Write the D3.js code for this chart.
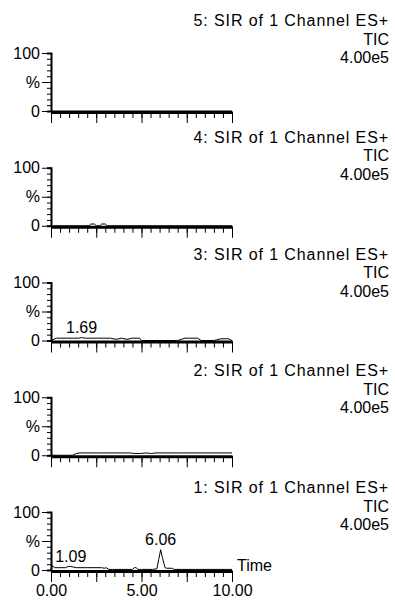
<!DOCTYPE html>
<html>
<head>
<meta charset="utf-8">
<script src="https://cdn.jsdelivr.net/npm/d3@7"></script>
<style>
    body { margin: 0; background: #fff; }
    svg { display: block; }
    text { font-family: "Liberation Sans", Arial, sans-serif; }
</style>
</head>
<body>
<div id="chart"></div>
<script>
// one panel per SIR channel, top to bottom
var titles = ['5: SIR of 1 Channel ES+', '4: SIR of 1 Channel ES+', '3: SIR of 1 Channel ES+', '2: SIR of 1 Channel ES+', '1: SIR of 1 Channel ES+']
var traceTypes = ['TIC', 'TIC', 'TIC', 'TIC', 'TIC']
var fullScales = ['4.00e5', '4.00e5', '4.00e5', '4.00e5', '4.00e5']

var xTickLabels = [0, 5, 10]
var yTickLabels = ['0', '%', '100']

// retention time (min) / intensity (%)
var ch5Time = [0, 10]
var ch5Int = [0, 0]

var ch4Time = [0, 2.1, 2.2, 2.4, 2.5, 2.7, 2.8, 3.0, 3.1, 10]
var ch4Int = [0, 0, 3, 3, 0, 0, 3, 3, 0, 0]

var ch3Time = [0, 0.3, 0.6, 1.2, 1.5, 1.69, 1.9, 2.6, 3.3, 3.6, 3.9, 4.2, 4.5, 4.9, 5.0, 5.8, 6.4, 7.0, 7.4, 8.1, 8.3, 9.0, 9.4, 9.8, 10]
var ch3Int = [0, 4, 4, 4, 4, 5, 4, 4, 4, 2, 4, 2, 4, 4, 0, 0, 0, 0, 4, 4, 0, 0, 3, 3, 0]

var ch2Time = [0, 1.2, 1.4, 1.6, 2.5, 4.0, 4.4, 4.6, 4.9, 5.3, 5.5, 5.8, 7.0, 10]
var ch2Int = [0, 0, 3, 4, 4, 4, 4, 3, 3, 4, 3, 4, 4, 4]

var ch1Time = [0, 0.05, 0.2, 0.4, 0.8, 0.95, 1.09, 1.25, 1.4, 2.0, 2.8, 2.95, 3.05, 3.2, 3.4, 4.5, 4.6, 4.7, 4.8, 5.0, 5.6, 5.85, 5.95, 6.06, 6.15, 6.3, 6.4, 6.7, 6.8, 8.0, 10]
var ch1Int = [0, 8, 4, 4, 4, 6, 6, 5, 4, 4, 4, 3, 4, 1, 1, 1, 4, 4, 1, 1, 1, 2, 18, 35, 22, 4, 3, 3, 1, 1, 1]

var peakTimes = [[], [], [1.69], [], [1.09, 6.06]]
var peakHeights = [[], [], [5], [], [6, 35]]

var traces = [
    [ch5Time, ch5Int],
    [ch4Time, ch4Int],
    [ch3Time, ch3Int],
    [ch2Time, ch2Int],
    [ch1Time, ch1Int]
]

var width = 395
var height = 601
var fontSize = 16
var panelPitch = 114.75
var headPitch = 116.75
var firstZero = 111
var plotHeight = 58

var svg = d3.select('#chart').append('svg')
    .attr('width', width)
    .attr('height', height)

var x = d3.scaleLinear().domain([0, 10]).range([51, 232])

function styleAxis(g) {
    g.selectAll('line').attr('stroke', '#000')
    g.selectAll('text')
        .attr('fill', '#000')
        .style('font-family', '"Liberation Sans", Arial, sans-serif')
        .style('font-size', fontSize + 'px')
}

titles.forEach(function (title, i) {
    var zero = firstZero + i * panelPitch
    var y = d3.scaleLinear().domain([0, 100]).range([zero, zero - plotHeight])
    var panel = svg.append('g').attr('class', 'panel')

    // header block, right aligned
    var head = panel.append('text')
        .attr('text-anchor', 'end')
        .attr('font-size', fontSize)
        .attr('fill', '#000')
    var lines = [title, traceTypes[i], fullScales[i]]
    lines.forEach(function (s, k) {
        head.append('tspan')
            .attr('x', 389)
            .attr('y', 26 + i * headPitch + k * 18.5)
            .attr('letter-spacing', k == 0 ? 0.9 : 0)
            .text(s)
    })

    // y axis: minor ticks every 10, labelled majors at 0 / 50 / 100
    panel.append('g')
        .attr('transform', 'translate(' + x(0) + ',0)')
        .call(d3.axisLeft(y).tickValues(d3.range(0, 101, 10)).tickSize(4).tickFormat(''))
        .call(function (g) { g.select('.domain').attr('stroke', '#000').attr('stroke-width', 2) })
        .call(styleAxis)
    panel.append('g')
        .attr('transform', 'translate(' + x(0) + ',0)')
        .call(d3.axisLeft(y).tickValues([0, 50, 100]).tickSize(9).tickPadding(2)
            .tickFormat(function (d, j) { return yTickLabels[j] }))
        .call(function (g) { g.select('.domain').remove() })
        .call(styleAxis)

    // x axis: thick base line, minor ticks every 0.5, majors every 2.5
    panel.append('g')
        .attr('transform', 'translate(0,' + (zero + 1) + ')')
        .call(d3.axisBottom(x).tickValues(d3.range(0, 10.01, 0.5)).tickSize(6).tickSizeOuter(0).tickFormat(''))
        .call(function (g) { g.select('.domain').attr('stroke', '#000').attr('stroke-width', 3) })
        .call(styleAxis)
    panel.append('g')
        .attr('transform', 'translate(0,' + (zero + 1) + ')')
        .call(d3.axisBottom(x).tickValues([0, 2.5, 5, 7.5, 10]).tickSize(11).tickFormat(''))
        .call(function (g) { g.select('.domain').remove() })
        .call(styleAxis)

    // the trace
    var pts = d3.zip(traces[i][0], traces[i][1])
    panel.append('path')
        .datum(pts)
        .attr('fill', 'none')
        .attr('stroke', '#000')
        .attr('stroke-width', 1)
        .attr('d', d3.line().x(function (d) { return x(d[0]) }).y(function (d) { return y(d[1]) }))

    // peak labels
    peakTimes[i].forEach(function (t, k) {
        panel.append('text')
            .attr('x', x(t))
            .attr('y', y(peakHeights[i][k]) - 5)
            .attr('text-anchor', 'middle')
            .attr('font-size', fontSize)
            .attr('fill', '#000')
            .text(t.toFixed(2))
    })

    if (i == titles.length - 1) {
        panel.append('g')
            .attr('transform', 'translate(0,' + (zero + 1) + ')')
            .call(d3.axisBottom(x).tickValues(xTickLabels).tickSize(0).tickPadding(14).tickFormat(d3.format('.2f')))
            .call(function (g) { g.select('.domain').remove() })
            .call(styleAxis)
        panel.append('text')
            .attr('x', x(10) + 5)
            .attr('y', zero + 1)
            .attr('font-size', fontSize)
            .attr('fill', '#000')
            .text('Time')
    }
})
</script>
</body>
</html>
